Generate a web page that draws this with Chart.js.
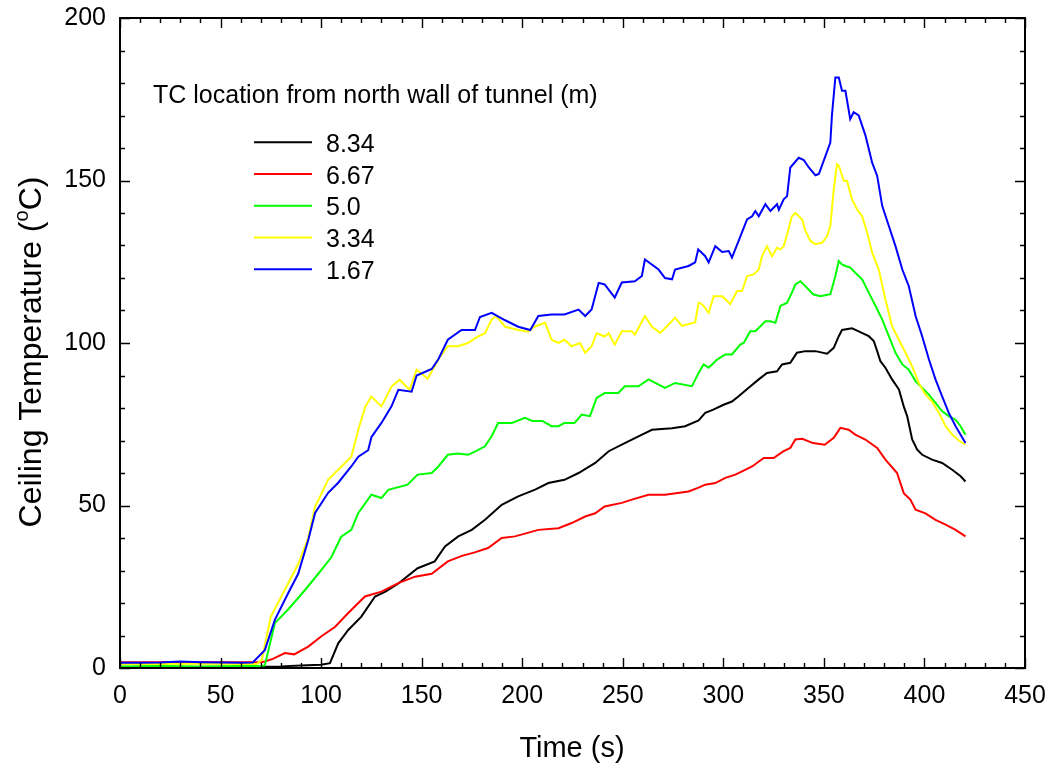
<!DOCTYPE html>
<html>
<head>
<meta charset="utf-8">
<script src="https://cdn.jsdelivr.net/npm/chart.js@4.4.1/dist/chart.umd.min.js"></script>
<style>
  html, body { margin: 0; padding: 0; background: #ffffff; }
  #wrap { width: 1052px; height: 771px; }
</style>
</head>
<body>
<div id="wrap"><canvas id="c" width="1052" height="771"></canvas></div>
<script>
// ---- Data (time in s, ceiling temperature in °C) ----
const seriesLabels = ['8.34', '6.67', '5.0', '3.34', '1.67'];
const seriesColors = ['#000000', '#ff0000', '#00ff00', '#ffff00', '#0000ff'];
const legendTitle = 'TC location from north wall of tunnel (m)';
const xTitle = 'Time (s)';
const yTitleMain = 'Ceiling Temperature (';
const yTitleSup = 'o';
const yTitleEnd = 'C)';

// 8.34 m (black)
const t834 = [0,20,40,60,80,90,100,104.4,108.5,113.5,
  120,126.8,132,138.4,148,156.5,161.6,168.2,174.9,181.5,
  189.8,198,206.4,213,221,228,236.3,243,251,257.8,
  264.5,274.5,281,287.7,291,295,300.1,304.3,307.6,312.6,
  317.6,321.7,326.7,329.2,333.3,336.6,340.8,345.8,351.6,354.9,
  357.4,359,364,367.3,372.3,374.8,376.5,378.1,380.6,383.9,
  387.3,389.7,391.4,393.9,396.4,398.9,403.8,408.8,413.8,418,
  420.4];
const v834 = [0.2,0.2,0.2,0.3,0.5,0.8,1,1.5,7.6,11.7,
  15.8,22,23.5,26,30.7,32.8,37.4,40.5,42.5,45.6,
  50.2,52.8,54.9,56.9,57.9,60,63.1,66.7,69.2,71.3,
  73.3,73.8,74.4,76.2,78.5,79.5,81,82,83.6,86.2,
  88.8,90.8,91.3,93.4,93.9,97,97.5,97.5,96.7,98.5,
  102.1,104,104.5,103.6,102.1,100.6,97.5,94.4,92.4,88.8,
  85.7,80.5,77.5,70.3,67.2,65.6,64.1,63.1,61,59,
  57.4];

// 6.67 m (red)
const t667 = [0,20,40,60,70,72,76,82,86.6,93.6,
  100,107,113.5,121.8,130,138.4,146.7,155,163,170,
  176,183,189.8,196.4,208,218,224.6,231.3,236.3,241,
  249.5,254.5,262.8,271,282.7,287.7,291,296,301,306,
  309.3,314.3,320.1,325,330,333.3,335.8,339.2,344.6,350.4,
  354.9,358.2,362.3,365.6,370.6,376.5,380.6,386.4,389.7,393,
  395.6,400.5,405.5,410.5,415.5,420.4];
const v667 = [1.8,1.8,1.8,1.8,1.8,2.0,2.8,4.6,4.2,6.6,
  9.7,12.7,16.9,22,23.5,26.1,28.1,29,32.8,34.5,
  35.5,36.9,40,40.5,42.5,43,44.6,46.6,47.6,49.7,
  50.8,51.8,53.3,53.3,54.3,55.5,56.4,56.9,58.5,59.5,
  60.5,62,64.6,64.6,66.7,67.7,70.3,70.5,69.2,68.7,
  70.8,73.9,73.3,71.8,70.3,67.7,64.1,60,53.8,51.8,
  48.7,47.6,45.6,44.1,42.5,40.5];

// 5.0 m (green)
const t500 = [0,20,40,60,70,72,77,83.6,92,98.6,
  105,110,115,118.5,125,130,133.4,143,148,155,
  158.3,163,168,173,176.5,181.5,184.8,188,194.8,201.4,
  205,210,214.6,218,221,226,229.6,233.7,237,241,
  247.8,251,257.8,262.8,271,276,284.4,287.7,290.2,292.7,
  296.9,301,304.3,308.4,310.1,313.4,315.9,320.9,323.4,325.9,
  328.4,331.7,334.1,335.8,338.3,340.8,344.6,348.3,353.2,355.7,
  357.4,359,360.7,363.1,365.6,369,372.3,375.7,379,382.3,
  385.6,389,392.2,395.6,398.9,402.2,405.5,408.8,412.1,415.5,
  418,420.4];
const v500 = [0.5,0.6,0.5,0.6,0.6,0.8,13.8,18,24,29,
  34,40.4,42.5,47.7,53.3,52.3,54.8,56.4,59.5,60,
  62,65.6,66,65.6,66.6,68.2,71.3,75.4,75.4,77,
  76,76,74.4,74.4,75.4,75.4,78,77.5,83.1,84.6,
  84.6,86.7,86.7,88.8,86.2,87.7,86.7,90.8,93.4,92.4,
  94.9,96.5,96.5,99.5,100,103.6,103.6,106.7,106.7,106.2,
  111.4,112.4,115.5,118,119,117.5,115,114.4,115,120.6,
  125.2,124.2,123.7,123.2,121.6,119.6,115.5,111.4,107.2,102.1,
  97,93.4,91.8,88.2,86.2,84.1,81.6,79,77.5,76.4,
  74.4,71.8];

// 3.34 m (yellow)
const t334 = [0,20,40,60,68,70.5,75,83.6,88.6,93.6,
  97,103.5,108.5,115,118.5,122,125,130,135,139,
  144,147.5,153,158.3,163,168,173,178,181.5,184.8,
  187,191.5,198,203,206,211.4,214.6,218,221,224.6,
  228.7,231.3,234.5,237,241,243,246,249.5,254.4,256,
  261,264.5,268.6,272.7,276,279.4,286,287.7,289.4,292.7,
  295.2,299.5,303.4,306.8,309.3,311.8,315.1,317.6,319.2,321.7,
  324.2,326.7,328.4,330,331.7,334.1,335.8,337.5,339.2,340.8,
  343.3,345.8,349.2,351.6,353.2,354.9,356.5,357.4,359.9,361.5,
  364,366.5,369,371.5,374,377.3,380.6,383.9,387.3,390.6,
  393.9,397.2,400.5,403.8,407.2,410.5,413.8,417.1,420.4];
const v334 = [1.2,1.2,1.3,1.2,1.2,2.5,15.8,26,32,40,
  49.6,58,61,65,73.3,80.5,83.5,80.5,86.6,88.7,
  85.6,91.8,89,95,99,99,100,102,103,107.2,
  108.3,105,104,103.5,105,106.2,101,100,101,99,
  100,97,99,103,102,103,99.5,103.6,103.6,102.6,
  108.3,105,103.1,105.6,107.8,105.3,106.3,112.4,112,109.3,
  114.4,114.4,112,116,116,120.6,121.1,122.6,126.7,129.8,
  126.7,129.3,128.8,129.8,133.4,139,140,139,138,134.5,
  131.4,130.4,130.9,132.9,136,147.3,155,154.6,149.9,149.9,
  144.2,141.1,139,134,127.8,122.6,113.4,105.2,101,97,
  92.8,87.7,84.1,82,78.5,74.4,71.8,70,68.7];

// 1.67 m (blue)
const t167 = [0,10,20,30,40,50,60,66,72,77,
  83.6,88.6,93.6,97,103.5,108.5,115,118.5,123.4,125,
  130,135,138.4,145,147.5,155,158.3,163,169.8,176.5,
  179,184.8,191.5,198,204,208,214.6,221,228,231.3,
  234.5,238,241,246,249.5,256,259.5,261,267.8,271,
  274.5,276,282.7,286,287.5,291,292.7,296,299.4,302.7,
  304.3,307.6,311.8,314.3,315.9,317.6,320.9,323.4,326.7,327.6,
  330,331.7,333.3,337.5,340,342.5,345.8,347.5,350.8,353.2,
  354,355.7,357.4,359,360.7,363.1,364.8,367.3,370.7,374,
  376.5,379,382.3,385.6,389,392.2,395.6,398.9,402.2,405.5,
  408.8,412.1,415.5,420.4];
const v167 = [1.6,1.6,1.7,2.0,1.8,1.7,1.6,1.7,5.5,14.8,
  23,29,39.4,47.7,53.9,57,62,65,67,71,
  75.4,80.5,85.6,85,90,92,95,101,104,104,
  108,109.3,107,105,104,108.3,108.8,108.8,110.3,108.3,
  110.3,118.5,118,114,118.6,119,120.6,125.7,122.6,120,
  119.6,122.6,123.7,124.8,128.8,126.7,124.8,129.8,128,128.3,
  126.3,131.4,138,139,140.6,139,142.7,140.6,142.7,141,
  144.2,145.2,154,157,156.3,154,151.6,152,157.6,161.7,
  170,181.7,181.7,177.6,177.6,168.9,171,170,163.8,155.5,
  151.4,142.2,136,129.8,122.6,117.5,108.3,102,95,88.8,
  83.6,78.5,74.4,69.2];

const seriesTimes = [t834, t667, t500, t334, t167];
const seriesValues = [v834, v667, v500, v334, v167];

// ---- Chart ----
const FONT = '"Liberation Sans", Arial, Helvetica, sans-serif';

const framePlugin = {
  id: 'frameTicksLegend',
  afterDraw(chart) {
    const ctx = chart.ctx;
    const a = chart.chartArea;
    const xs = chart.scales.x, ys = chart.scales.y;
    ctx.save();
    // ticks (inward, all four sides)
    ctx.strokeStyle = '#000';
    ctx.lineWidth = 1.4;
    ctx.beginPath();
    for (let v = xs.min; v <= xs.max; v += 10) {
      const x = Math.round(xs.getPixelForValue(v)) + 0.5;
      const len = (v % 50 === 0) ? 10 : 5;
      ctx.moveTo(x, a.bottom); ctx.lineTo(x, a.bottom - len);
      ctx.moveTo(x, a.top); ctx.lineTo(x, a.top + len);
    }
    for (let v = ys.min; v <= ys.max; v += 10) {
      const y = Math.round(ys.getPixelForValue(v)) + 0.5;
      const len = (v % 50 === 0) ? 10 : 5;
      ctx.moveTo(a.left, y); ctx.lineTo(a.left + len, y);
      ctx.moveTo(a.right, y); ctx.lineTo(a.right - len, y);
    }
    ctx.stroke();
    // frame
    ctx.lineWidth = 2;
    ctx.strokeRect(a.left, a.top, a.right - a.left, a.bottom - a.top);

    // legend
    ctx.fillStyle = '#000';
    ctx.font = '25px ' + FONT;
    ctx.textAlign = 'left';
    ctx.textBaseline = 'alphabetic';
    ctx.fillText(legendTitle, 153, 103);
    chart.data.datasets.forEach((ds, i) => {
      const y = 142.3 + i * 31.75;
      ctx.strokeStyle = ds.borderColor;
      ctx.lineWidth = 2;
      ctx.beginPath();
      ctx.moveTo(254, y); ctx.lineTo(312, y);
      ctx.stroke();
      ctx.fillStyle = '#000';
      ctx.fillText(ds.label, 326, y + 9.6);
    });

    // x title
    ctx.font = '29px ' + FONT;
    ctx.textAlign = 'center';
    ctx.fillText(xTitle, 572, 757);

    // y title (rotated, with superscript o)
    ctx.save();
    ctx.translate(41, 352);
    ctx.rotate(-Math.PI / 2);
    const big = '32px ' + FONT, small = '20px ' + FONT;
    ctx.font = big; const w1 = ctx.measureText(yTitleMain).width;
    ctx.font = small; const w2 = ctx.measureText(yTitleSup).width;
    ctx.font = big; const w3 = ctx.measureText(yTitleEnd).width;
    const total = w1 + w2 + w3;
    let x0 = -total / 2;
    ctx.textAlign = 'left';
    ctx.font = big; ctx.fillText(yTitleMain, x0, 0);
    ctx.font = small; ctx.fillText(yTitleSup, x0 + w1, -13);
    ctx.font = big; ctx.fillText(yTitleEnd, x0 + w1 + w2, 0);
    ctx.restore();
    ctx.restore();
  }
};

const datasets = seriesLabels.map((lab, i) => ({
  label: lab,
  data: seriesTimes[i].map((t, k) => ({ x: t, y: seriesValues[i][k] })),
  borderColor: seriesColors[i],
  backgroundColor: seriesColors[i],
  borderWidth: 2,
  pointRadius: 0,
  tension: 0,
  fill: false,
  order: seriesLabels.length - i
}));

new Chart(document.getElementById('c'), {
  type: 'line',
  data: { datasets },
  options: {
    responsive: false,
    animation: false,
    devicePixelRatio: 1,
    layout: { padding: { left: 0, top: 18, right: 27, bottom: 0 } },
    plugins: { legend: { display: false }, tooltip: { enabled: false }, title: { display: false } },
    scales: {
      x: {
        type: 'linear', min: 0, max: 450,
        ticks: { stepSize: 50, color: '#000', font: { family: FONT, size: 25 }, padding: 5, maxRotation: 0, autoSkip: false },
        grid: { display: false },
        border: { display: false },
        afterFit(s) { s.height = 103; s.paddingLeft = 0; s.paddingRight = 0; }
      },
      y: {
        type: 'linear', min: 0, max: 200,
        ticks: { stepSize: 50, color: '#000', font: { family: FONT, size: 25 }, padding: 6 },
        grid: { display: false },
        border: { display: false },
        afterFit(s) { s.width = 120; s.paddingTop = 0; s.paddingBottom = 0; }
      }
    }
  },
  plugins: [framePlugin]
});
</script>
</body>
</html>
